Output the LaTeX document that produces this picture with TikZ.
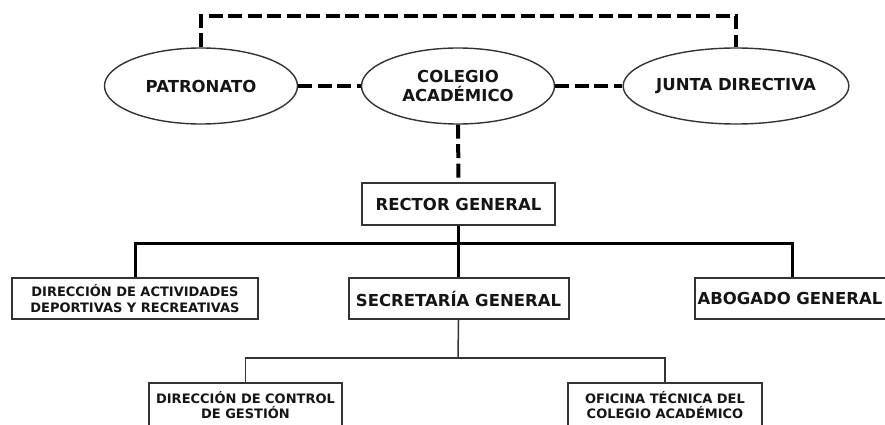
\documentclass[tikz,border=0pt]{standalone}
\usepackage{fontspec}
\setmainfont{DejaVu Sans}
\usetikzlibrary{shapes.geometric}
\definecolor{edge}{HTML}{333333}
\definecolor{ink}{HTML}{151515}
\begin{document}
\begin{tikzpicture}[x=1pt,y=-1pt,
  big/.style={font=\fontsize{16.5}{19.5}\selectfont\bfseries, text=ink, align=center},
  small/.style={font=\fontsize{13}{15.5}\selectfont\bfseries, text=ink, align=center},
  oval/.style={ellipse, draw=edge, line width=1.4pt, fill=white, inner sep=0pt,
    minimum width=193pt, minimum height=76pt, big},
  unit/.style={rectangle, draw=edge, line width=2pt, fill=white, inner sep=0pt},
  link/.style={line width=4pt, dash pattern=on 14pt off 5.5pt},
  bus/.style={line width=3pt},
  sub/.style={line width=1.5pt, draw=edge}]
\useasboundingbox (0,0) rectangle (885,425);
\clip (0,0) rectangle (885,425);

% governing bodies
\node[oval] (pat) at (201,86) {PATRONATO};
\node[oval] (col) at (458,86) {COLEGIO\\ACADÉMICO};
\node[oval] (jun) at (736,86) {JUNTA DIRECTIVA};

% rector and first level
\node[unit, big, minimum width=193pt, minimum height=42pt] (rect) at (458.5,204) {RECTOR GENERAL};
\node[unit, small, minimum width=246pt, minimum height=41pt] (dir) at (135,298.5) {DIRECCIÓN DE ACTIVIDADES\\DEPORTIVAS Y RECREATIVAS};
\node[unit, big, minimum width=220pt, minimum height=41pt] (sec) at (458.5,298.5) {SECRETARÍA GENERAL};
\node[unit, big, minimum width=200pt, minimum height=41pt, text width=190pt, align=left] (abo) at (795,298.5) {\hspace*{-2.5pt}ABOGADO GENERAL};

% second level under the secretariat
\node[unit, small, minimum width=193pt, minimum height=44pt] (con) at (245.5,405) {DIRECCIÓN DE CONTROL\\DE GESTIÓN};
\node[unit, small, minimum width=194pt, minimum height=44pt] (ofi) at (665,405) {OFICINA TÉCNICA DEL\\COLEGIO ACADÉMICO};

\coordinate (top) at (458,16);
\coordinate (bus) at (458,243);
\coordinate (subbus) at (458,358);

% coordination links
\draw[link] (pat.north) |- (top) -| (jun.north);
\draw[link] (pat.east) -- (col.west);
\draw[link] (col.east) -- (jun.west);
\draw[link] (col.south) -- (rect.north);

% hierarchy
\draw[bus] (rect.south) -- (sec.north);
\draw[bus] (dir.north) |- (bus) -| ([xshift=-3pt]abo.north);
\draw[sub] (sec.south) -- (subbus);
\draw[sub] (con.north) |- (subbus) -| (ofi.north);
\end{tikzpicture}
\end{document}
